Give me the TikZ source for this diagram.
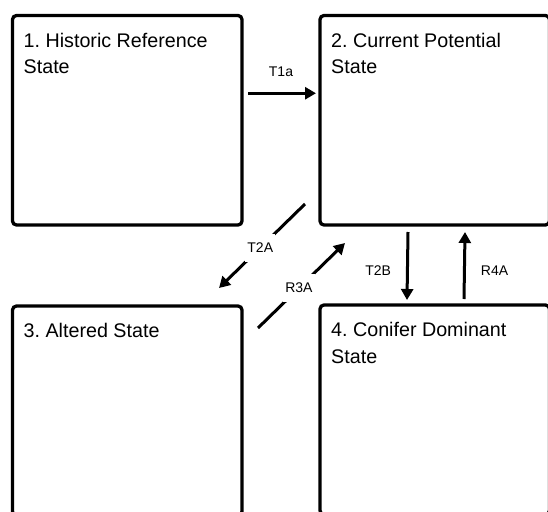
\documentclass[tikz,border=0pt]{standalone}
\usepackage{fontspec}
\setmainfont{Liberation Sans}
\usepackage{tikz}
\usetikzlibrary{arrows.meta,positioning}
\frenchspacing
\tikzstyle{statebox} = [rectangle, draw=black, line width=3.3pt, rounded corners=4pt, fill=none, outer sep=0pt, minimum width=229.5pt, minimum height=209.5pt]
\tikzstyle{textonly} = [draw=none, fill=none, anchor=base west, align=left, inner sep=0pt, font=\fontsize{19.7}{26.7}\selectfont]
\tikzstyle{elabel} = [draw=none, fill=white, text=black, inner xsep=2pt, inner ysep=9pt, font=\fontsize{14}{16}\selectfont]
\tikzstyle{tedge}  = [draw, line width=3pt, -{Triangle[length=11pt,width=12pt]}]

\begin{document}
\begin{tikzpicture}[x=1pt, y=-1pt]
\useasboundingbox (0,0) rectangle (548,511);
\clip (0,0) rectangle (548,511);

% states =============================
\node[statebox, anchor=north west] (s1) at (12.5,15.5) {};
\node[statebox, right=78pt of s1] (s2) {};
\node[statebox, below=81pt of s1] (s3) {};
\node[statebox, below=80pt of s2] (s4) {};
% base of a two-line node is its last line
\node[textonly] (n1) at ([xshift=11pt,yshift=-58.2pt]s1.north west) {1. Historic Reference\\State};
\node[textonly] (n2) at ([xshift=11pt,yshift=-58.2pt]s2.north west) {2. Current Potential\\State};
\node[textonly] (n3) at ([xshift=11pt,yshift=-31.5pt]s3.north west) {3. Altered State};
\node[textonly] (n4) at ([xshift=11pt,yshift=-58.2pt]s4.north west) {4. Conifer Dominant\\State};

% edges
\path[tedge, shorten <=6pt, shorten >=4pt] ([yshift=27pt]s1.east) -- node[elabel, above=6pt] {T1a} ([yshift=27pt]s2.west);
\path[tedge] ([shift={(-15,-21)}]s2.south west) -- node[elabel, pos=0.52] {T2A} ([shift={(-23,-18)}]s3.north east);
\path[tedge] ([shift={(16,22)}]s3.north east) -- node[elabel, pos=0.47] {R3A} ([shift={(25,18)}]s2.south west);
\path[tedge] ([shift={(88,7)}]s2.south west) -- node[elabel, pos=0.57, left=13pt] {T2B} ([shift={(87,-5)}]s4.north west);
\path[tedge] ([shift={(144,-6)}]s4.north west) -- node[elabel, pos=0.42, right=13pt] {R4A} ([shift={(145,7)}]s2.south west);

\end{tikzpicture}
\end{document}
